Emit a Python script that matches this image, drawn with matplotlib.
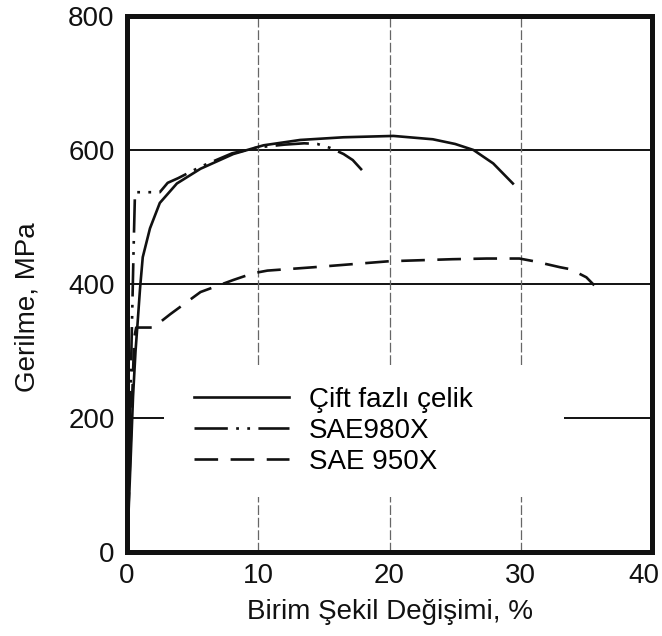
import matplotlib
matplotlib.use("Agg")
from matplotlib import pyplot as plt
from matplotlib.patches import Rectangle
from matplotlib.transforms import ScaledTranslation

plt.rcParams['font.family'] = ['Liberation Sans', 'DejaVu Sans']
plt.rcParams['lines.scale_dashes'] = False

# stress-strain curves (strain %, stress MPa)
dp_strain = [0, 0.3, 0.46, 0.65, 0.8, 1.0, 1.2, 1.75, 2.5, 3.8, 5.6, 8.1,
             10.4, 13.2, 16.5, 20.3, 23.3, 25.0, 26.4, 27.9, 29.4]
dp_stress = [0, 150, 232, 300, 340, 395, 440, 483, 521, 550, 572, 594,
             607, 615, 619, 621, 616, 609, 600, 580, 550]

sae980_strain = [0, 0.5, 0.6, 0.7, 2.5, 3.1, 3.9, 5.6, 8.0, 10.0, 12.0,
                 13.5, 14.5, 15.5, 16.5, 17.2, 17.9]
sae980_stress = [0, 450, 530, 537, 537, 551, 558, 575, 595, 604, 608,
                 610, 609, 603, 594, 585, 570]

sae950_strain = [0, 0.55, 0.7, 2.0, 3.3, 5.6, 8.1, 9.6, 10.7, 14.2, 20.0,
                 24.8, 27.4, 29.9, 31.0, 33.0, 33.8, 35.0, 35.6]
sae950_stress = [0, 320, 335, 335, 355, 388, 406, 416, 420, 425, 434,
                 437, 438, 438, 434, 425, 422, 410, 398]

labels = ["Çift fazlı çelik", "SAE980X", "SAE 950X"]
x_ticks = [0, 10, 20, 30, 40]
y_ticks = [0, 200, 400, 600, 800]

ink = "#111111"

fig = plt.figure(figsize=(6.62, 6.36), dpi=100)
ax = fig.add_axes([127 / 662, 1 - 552 / 636, 525 / 662, 536 / 636])

ax.set_xlim(0, 40)
ax.set_ylim(0, 800)
ax.set_xticks(x_ticks)
ax.set_yticks(y_ticks)
ax.tick_params(length=0, labelsize=20, colors=ink)
ax.tick_params(axis='x', pad=8)
ax.tick_params(axis='y', pad=9)

# keep the last x label inside the figure edge
last = ax.get_xticklabels()[-1]
last.set_transform(last.get_transform()
                   + ScaledTranslation(-8 / 100, 0, fig.dpi_scale_trans))

# grid: solid horizontals, thin dashed verticals
for y in y_ticks[1:-1]:
    ax.axhline(y, color=ink, lw=1.4, zorder=1)
for x in x_ticks[1:-1]:
    ax.axvline(x, color="#666666", lw=0.9, dashes=(7, 2), zorder=1)

# white block behind the legend hides the grid there
ax.add_patch(Rectangle((0.070, 0.103), 0.762, 0.246, transform=ax.transAxes,
                       facecolor="white", edgecolor="none", zorder=2))

ax.plot(dp_strain, dp_stress, color=ink, lw=1.9, zorder=3, label=labels[0])
ax.plot(sae980_strain, sae980_stress, color=ink, lw=1.9, zorder=3,
        dashes=(24, 6, 2, 6, 2, 6), label=labels[1])
ax.plot(sae950_strain, sae950_stress, color=ink, lw=1.9, zorder=3,
        dashes=(17, 9), label=labels[2])

ax.legend(loc="center left", bbox_to_anchor=(0.128, 0.226), frameon=False,
          fontsize=20, handlelength=3.42, handletextpad=0.72,
          labelspacing=0.18, borderpad=0, borderaxespad=0)

for side in ax.spines.values():
    side.set_linewidth(3.6)
    side.set_color(ink)

fig.text(390 / 662, 1 - 619 / 636, "Birim Şekil Değişimi, %", fontsize=20,
         ha="center", va="baseline", color=ink)
fig.text(34 / 662, 1 - 307 / 636, "Gerilme, MPa", fontsize=20, rotation=90,
         rotation_mode="anchor", ha="center", va="baseline", color=ink)

fig.savefig("out.png", dpi=100)
plt.close()
